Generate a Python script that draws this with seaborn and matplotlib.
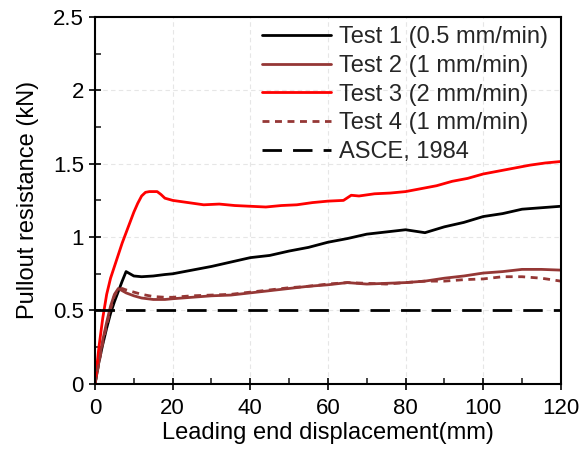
import matplotlib
matplotlib.use("Agg")
import matplotlib.pyplot as plt
import seaborn as sns
import pandas as pd
from matplotlib.ticker import MultipleLocator, FuncFormatter

x1 = [0, 1, 2, 3, 4, 5, 6, 7, 8, 9, 10, 12, 15, 18, 20, 25, 30, 35, 40, 45, 50, 55, 60, 65, 70, 75, 80, 85, 90, 95, 100, 105, 110, 115, 120]
y1 = [0, 0.15, 0.27, 0.38, 0.48, 0.56, 0.63, 0.70, 0.765, 0.75, 0.735, 0.73, 0.735, 0.745, 0.75, 0.775, 0.80, 0.83, 0.86, 0.875, 0.905, 0.93, 0.965, 0.99, 1.02, 1.035, 1.05, 1.03, 1.07, 1.10, 1.14, 1.16, 1.19, 1.20, 1.21]

x2 = [0, 1, 2, 3, 4, 5, 6, 7, 8, 10, 12, 15, 18, 20, 25, 30, 35, 40, 45, 50, 55, 60, 65, 70, 75, 80, 85, 90, 95, 100, 105, 110, 115, 120]
y2 = [0, 0.15, 0.30, 0.42, 0.53, 0.61, 0.65, 0.635, 0.62, 0.60, 0.585, 0.575, 0.575, 0.58, 0.59, 0.60, 0.605, 0.62, 0.635, 0.65, 0.665, 0.675, 0.69, 0.68, 0.685, 0.69, 0.70, 0.72, 0.735, 0.755, 0.765, 0.78, 0.78, 0.775]

x3 = [0, 1, 2, 3, 4, 5, 6, 7, 8, 9, 10, 11, 12, 13, 14, 16, 17, 18, 20, 24, 28, 32, 36, 40, 44, 48, 52, 56, 60, 64, 66, 68, 72, 76, 80, 84, 88, 92, 96, 100, 104, 108, 112, 116, 120]
y3 = [0, 0.25, 0.45, 0.61, 0.72, 0.80, 0.88, 0.96, 1.03, 1.10, 1.17, 1.23, 1.28, 1.305, 1.31, 1.31, 1.29, 1.265, 1.25, 1.235, 1.22, 1.225, 1.215, 1.21, 1.205, 1.215, 1.22, 1.235, 1.245, 1.25, 1.285, 1.28, 1.295, 1.30, 1.31, 1.33, 1.35, 1.38, 1.40, 1.43, 1.45, 1.47, 1.49, 1.505, 1.515]

x4 = [0, 1, 2, 3, 4, 5, 6, 7, 8, 10, 12, 15, 18, 20, 25, 30, 35, 40, 45, 50, 55, 60, 65, 70, 75, 80, 85, 90, 95, 100, 105, 110, 115, 120]
y4 = [0, 0.14, 0.28, 0.40, 0.51, 0.60, 0.645, 0.65, 0.64, 0.625, 0.61, 0.595, 0.59, 0.59, 0.60, 0.605, 0.61, 0.625, 0.64, 0.655, 0.665, 0.68, 0.69, 0.685, 0.68, 0.69, 0.70, 0.70, 0.71, 0.715, 0.73, 0.73, 0.72, 0.70]

x5 = [0, 120]
y5 = [0.5, 0.5]

labels = ["Test 1 (0.5 mm/min)", "Test 2 (1 mm/min)", "Test 3 (2 mm/min)", "Test 4 (1 mm/min)", "ASCE, 1984"]

sns.set_theme(style="white")
plt.rcParams['font.family'] = ['Liberation Sans', 'DejaVu Sans']

fig = plt.figure(figsize=(5.83, 4.57), dpi=100)
ax = fig.add_axes([0.163, 0.160, 0.799, 0.803])

brown = "#953735"
styles = [
    dict(color="black", linestyle="-"),
    dict(color=brown, linestyle="-"),
    dict(color="#FF0000", linestyle="-"),
    dict(color=brown, linestyle=(0, (2.5, 2.0))),
    dict(color="black", linestyle=(0, (7, 4))),
]
series = [(x1, y1), (x2, y2), (x3, y3), (x4, y4), (x5, y5)]
for (xs, ys), lab, st in zip(series, labels, styles):
    df = pd.DataFrame({"x": xs, "y": ys})
    sns.lineplot(data=df, x="x", y="y", ax=ax, label=lab, linewidth=2, **st)

ax.set_xlim(0, 120)
ax.set_ylim(0, 2.5)
ax.xaxis.set_major_locator(MultipleLocator(20))
ax.xaxis.set_minor_locator(MultipleLocator(10))
ax.yaxis.set_major_locator(MultipleLocator(0.5))
ax.yaxis.set_minor_locator(MultipleLocator(0.25))
ax.yaxis.set_major_formatter(FuncFormatter(lambda v, p: f"{v:g}"))
ax.tick_params(which="major", direction="inout", length=8, width=1.2, labelsize=16, colors="black", pad=4)
ax.tick_params(axis="x", which="major", pad=6)
ax.tick_params(which="minor", direction="in", length=4, width=1.2)
ax.tick_params(axis="both", which="both", bottom=True, left=True)
ax.grid(True, which="major", linestyle=(0, (4, 3)), color="#e6e6e6", linewidth=0.8)
for s in ax.spines.values():
    s.set_visible(True)
    s.set_color("black")
    s.set_linewidth(1.5)

ax.set_xlabel("Leading end displacement(mm)", fontsize=17, color="black", labelpad=2)
ax.set_ylabel("Pullout resistance (kN)", fontsize=17, color="black", labelpad=10)

ax.legend(loc="upper right", frameon=False, fontsize=17, handlelength=2.9,
          labelspacing=0.28, handletextpad=0.35, borderaxespad=0.0,
          bbox_to_anchor=(0.993, 1.0))

fig.savefig("out.png", dpi=100)
